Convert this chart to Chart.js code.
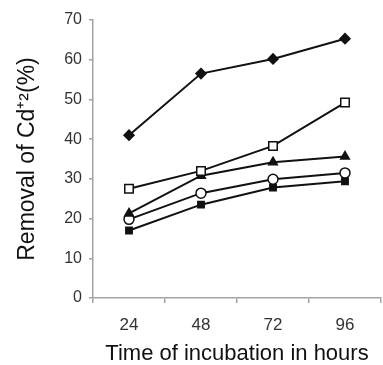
<!DOCTYPE html>
<html>
<head>
<meta charset="utf-8">
<script src="https://cdn.jsdelivr.net/npm/chart.js@4/dist/chart.umd.min.js"></script>
<style>
  html, body { margin: 0; padding: 0; background: #fff; }
  #wrap { width: 383px; height: 365px; }
</style>
</head>
<body>
<div id="wrap"><canvas id="chart"></canvas></div>
<script>
const hours = ["24", "48", "72", "96"];
const diamondSeries = [41, 56.5, 60.2, 65.3];
const openSquareSeries = [27.5, 32, 38.3, 49.2];
const triangleSeries = [21.3, 30.8, 34.2, 35.6];
const openCircleSeries = [19.8, 26.4, 29.9, 31.5];
const filledSquareSeries = [17, 23.5, 27.8, 29.4];
const yTicks = [0, 10, 20, 30, 40, 50, 60, 70];

const FONT = "'Liberation Sans', Arial, sans-serif";
const INK = "#111";
const AXIS = "#a3a3a3";

function series(data, style, radius, filled) {
  return {
    data: data,
    borderColor: INK,
    borderWidth: 2,
    pointStyle: style,
    pointRadius: radius,
    pointBorderColor: INK,
    pointBorderWidth: 1.5,
    pointBackgroundColor: filled ? INK : "#fff",
    tension: 0,
    fill: false,
  };
}

new Chart(document.getElementById("chart"), {
  type: "line",
  data: {
    labels: hours,
    datasets: [
      series(diamondSeries, "rectRot", 5, true),
      series(openSquareSeries, "rect", 6, false),
      series(triangleSeries, "triangle", 5, true),
      series(openCircleSeries, "circle", 5, false),
      series(filledSquareSeries, "rect", 4.5, true),
    ],
  },
  options: {
    responsive: true,
    maintainAspectRatio: false,
    animation: false,
    // autoPadding reserves room for point radius on the right, which we don't want
    layout: { autoPadding: false, padding: { left: 10, top: 20, right: 2, bottom: 0 } },
    plugins: { legend: { display: false }, tooltip: { enabled: false } },
    scales: {
      x: {
        offset: true,
        grid: { offset: true, drawOnChartArea: false, drawTicks: true, tickLength: 5, color: AXIS, lineWidth: 1.5 },
        border: { color: AXIS, width: 1.5 },
        ticks: { color: "#333", font: { family: FONT, size: 17 }, padding: 12 },
        title: {
          display: true,
          text: "Time of incubation in hours",
          color: INK,
          font: { family: FONT, size: 22, lineHeight: 1 },
          padding: { top: 0, bottom: 0 },
        },
        afterFit: (s) => { s.height = 67; },
      },
      y: {
        min: 0,
        max: 70,
        afterBuildTicks: (s) => { s.ticks = yTicks.map((v) => ({ value: v })); },
        grid: { drawOnChartArea: false, drawTicks: true, tickLength: 4, color: AXIS, lineWidth: 1.5 },
        border: { color: AXIS, width: 1.5 },
        ticks: { color: "#333", font: { family: FONT, size: 16 }, padding: 7 },
        title: {
          display: true,
          text: "Removal of Cd\u207A\u00B2(%)",
          color: INK,
          font: { family: FONT, size: 23 },
        },
        afterFit: (s) => { s.width = 83; },
      },
    },
  },
});
</script>
</body>
</html>
